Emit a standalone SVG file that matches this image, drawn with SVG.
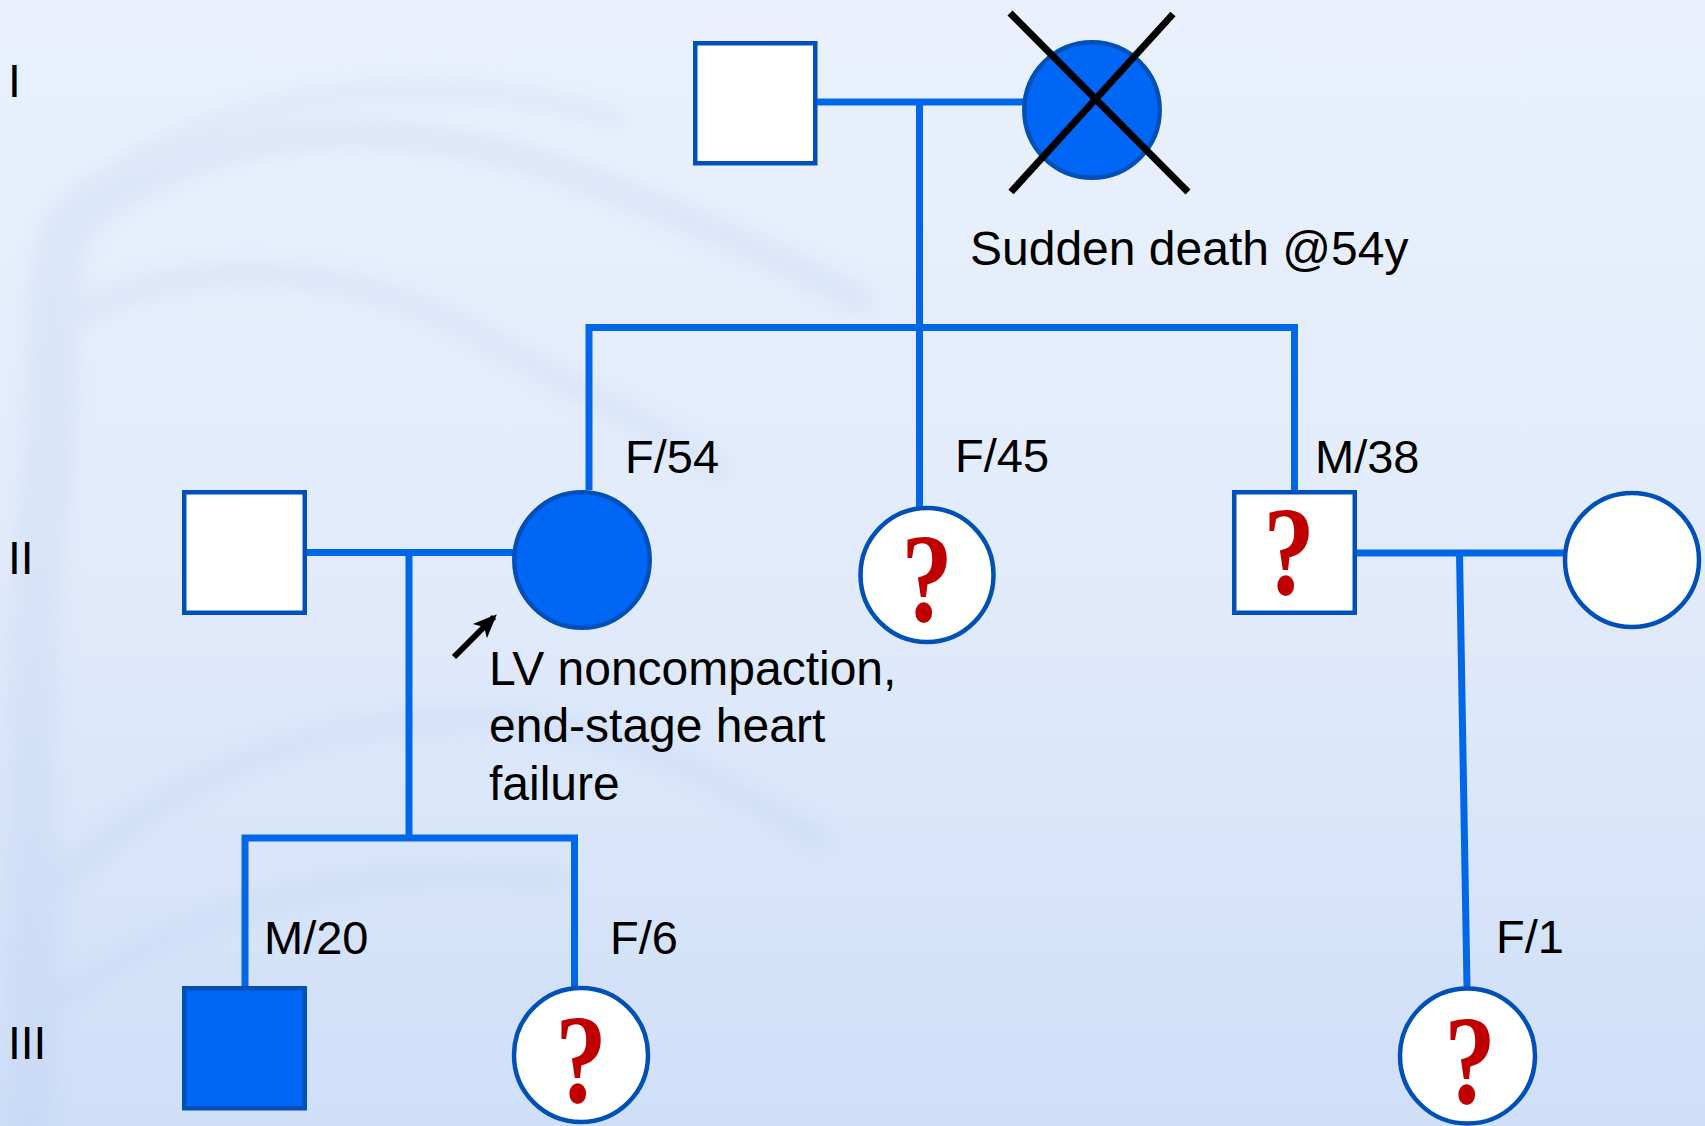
<svg xmlns="http://www.w3.org/2000/svg" width="1705" height="1126" viewBox="0 0 1705 1126">
  <defs>
    <linearGradient id="bg" x1="0" y1="0" x2="0" y2="1">
      <stop offset="0" stop-color="#eaf1fd"/>
      <stop offset="0.5" stop-color="#e2ebfb"/>
      <stop offset="1" stop-color="#cfdff8"/>
    </linearGradient>
    <filter id="soft" x="-10%" y="-10%" width="120%" height="120%">
      <feGaussianBlur stdDeviation="10"/>
    </filter>
    <marker id="arrowhead" viewBox="0 0 12 10" refX="10" refY="5" markerWidth="4" markerHeight="4" orient="auto" markerUnits="strokeWidth">
      <path d="M0,0 L12,5 L0,10 L3,5 Z" fill="#000"/>
    </marker>
    <style>
      .conn { stroke: #0068e8; stroke-width: 7; fill: none; }
      .node { stroke: #0050b8; stroke-width: 4.5; }
      .empty { fill: #ffffff; }
      .affected { fill: #0066f6; }
      .label { font-family: "Liberation Sans", Arial, sans-serif; font-size: 47px; fill: #000; }
      .note { font-family: "Liberation Sans", Arial, sans-serif; font-size: 48px; fill: #000; }
      .gen { font-family: "Liberation Sans", Arial, sans-serif; font-size: 46px; fill: #000; }
      .unknown { font-family: "Liberation Serif", "Times New Roman", serif; font-weight: bold; font-size: 126px; fill: #c00000; text-anchor: middle; }
    </style>
  </defs>

  <!-- background with a faint tree watermark -->
  <rect x="0" y="0" width="1705" height="1126" fill="url(#bg)"/>
  <g id="watermark" fill="none" stroke="#b4c9ec" stroke-linecap="round" opacity="0.22" filter="url(#soft)">
    <path d="M30,1126 C40,900 20,700 45,500 C60,380 40,300 70,220" stroke-width="50"/>
    <path d="M60,240 C200,120 380,110 560,170 C700,220 780,260 860,300" stroke-width="30"/>
    <path d="M50,330 C180,250 330,260 470,330 C560,380 640,420 720,470" stroke-width="22"/>
    <path d="M70,200 C220,90 420,60 620,120" stroke-width="18"/>
    <path d="M40,900 C160,780 300,720 470,720 C620,720 720,780 820,840" stroke-width="24"/>
    <path d="M60,1000 C200,900 380,860 560,880" stroke-width="18"/>
  </g>

  <!-- generation numbers -->
  <g id="generations">
    <text class="gen" x="8" y="97">I</text>
    <text class="gen" x="8" y="574">II</text>
    <text class="gen" x="8" y="1059">III</text>
  </g>

  <!-- lines of descent and marriage -->
  <g id="connectors">
    <line class="conn" x1="817" y1="102" x2="1024" y2="102"/>
    <line class="conn" x1="919.5" y1="102" x2="919.5" y2="327.5"/>
    <polyline class="conn" points="589,490 589,327.5 1294.5,327.5 1294.5,490"/>
    <line class="conn" x1="919.5" y1="327.5" x2="919.5" y2="507"/>
    <line class="conn" x1="307" y1="552.5" x2="513" y2="552.5"/>
    <line class="conn" x1="409" y1="552.5" x2="409" y2="838"/>
    <polyline class="conn" points="245,987 245,838 574.5,838 574.5,987"/>
    <line class="conn" x1="1357" y1="553" x2="1564" y2="553"/>
    <line class="conn" x1="1459.5" y1="553" x2="1467" y2="987"/>
  </g>

  <!-- generation I -->
  <g id="I-1">
    <rect class="node empty" x="695.25" y="43.25" width="120" height="120"/>
  </g>
  <g id="I-2">
    <circle class="node affected" cx="1092" cy="110" r="67.7"/>
    <line x1="1010" y1="13" x2="1188" y2="192" stroke="#000" stroke-width="7"/>
    <line x1="1173" y1="14" x2="1011" y2="192" stroke="#000" stroke-width="7"/>
    <text class="note" x="970" y="265">Sudden death @54y</text>
  </g>

  <!-- generation II -->
  <g id="II-1">
    <rect class="node empty" x="184.25" y="492.25" width="120.5" height="120.5"/>
  </g>
  <g id="II-2">
    <circle class="node affected" cx="582" cy="560" r="67.7"/>
    <text class="label" x="625" y="473">F/54</text>
    <line x1="454" y1="657" x2="494" y2="617" stroke="#000" stroke-width="6" marker-end="url(#arrowhead)"/>
    <text class="note" x="489" y="685">LV noncompaction,</text>
    <text class="note" x="489" y="742">end-stage heart</text>
    <text class="note" x="489" y="800">failure</text>
  </g>
  <g id="II-3">
    <ellipse class="node empty" cx="927" cy="575" rx="66.5" ry="67"/>
    <text class="unknown" transform="translate(927 621) scale(0.82 1)" x="0" y="0">?</text>
    <text class="label" x="955" y="472">F/45</text>
  </g>
  <g id="II-4">
    <rect class="node empty" x="1234.25" y="492.25" width="120.5" height="120.5"/>
    <text class="unknown" transform="translate(1289 594) scale(0.82 1)" x="0" y="0">?</text>
    <text class="label" x="1315" y="473">M/38</text>
  </g>
  <g id="II-5">
    <circle class="node empty" cx="1632" cy="560" r="67"/>
  </g>

  <!-- generation III -->
  <g id="III-1">
    <rect class="node affected" x="184.25" y="988.25" width="120.5" height="120"/>
    <text class="label" x="264" y="954">M/20</text>
  </g>
  <g id="III-2">
    <circle class="node empty" cx="581" cy="1055" r="67"/>
    <text class="unknown" transform="translate(581 1102) scale(0.82 1)" x="0" y="0">?</text>
    <text class="label" x="610" y="954">F/6</text>
  </g>
  <g id="III-3">
    <circle class="node empty" cx="1467.5" cy="1056" r="67.5"/>
    <text class="unknown" transform="translate(1470 1103) scale(0.82 1)" x="0" y="0">?</text>
    <text class="label" x="1496" y="953">F/1</text>
  </g>
</svg>
